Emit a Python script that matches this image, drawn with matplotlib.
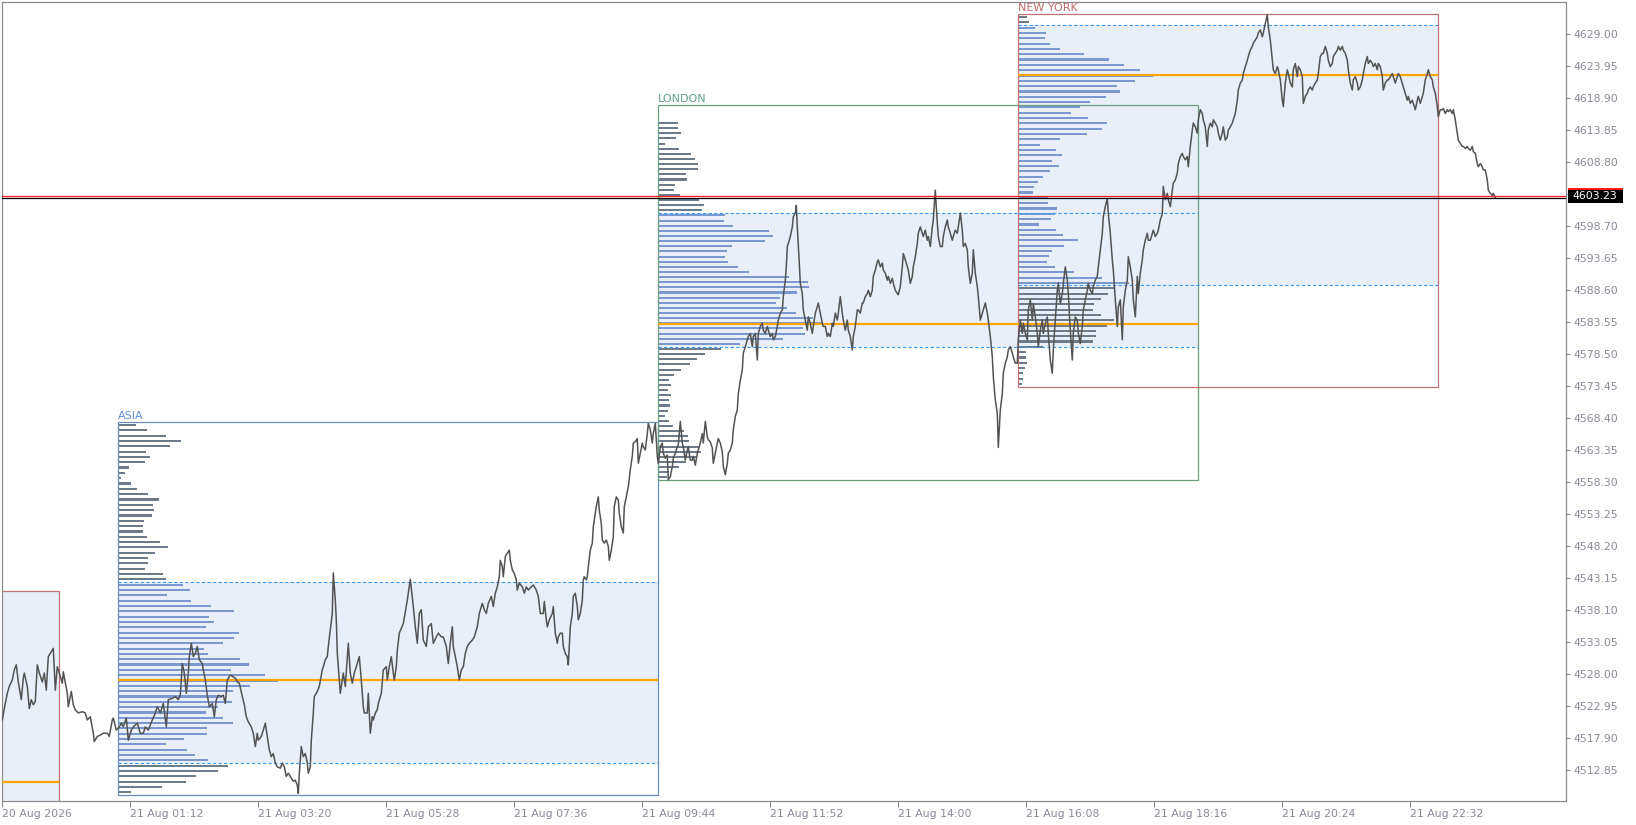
import numpy as np
import matplotlib.pyplot as plt
from matplotlib.patches import Rectangle
from matplotlib.transforms import blended_transform_factory

# M1 close line: (minutes after 21 Aug 2026 00:00, price)
m1_close = [
    (-56, 4520.8), (-54, 4522.6), (-51, 4525.0), (-49, 4526.1), (-46, 4527.1), (-44, 4528.7), (-42, 4529.5), (-40, 4526.8), (-37, 4524.0), (-35, 4527.4),
    (-34, 4528.2), (-31, 4526.1), (-29, 4522.6), (-27, 4524.0), (-25, 4523.2), (-23, 4523.7), (-21, 4529.5), (-19, 4528.2), (-16, 4526.8), (-14, 4528.2),
    (-12, 4525.5), (-10, 4530.8), (-7, 4531.6), (-5, 4532.1), (-3, 4525.5), (-1, 4529.2), (1, 4528.2), (4, 4526.6), (5, 4528.4), (9, 4525.0),
    (10, 4522.9), (13, 4525.3), (15, 4523.2), (17, 4522.4), (20, 4521.9), (24, 4522.1), (27, 4521.9), (29, 4520.8), (32, 4521.3), (35, 4518.7),
    (36, 4517.4), (39, 4518.2), (42, 4518.4), (45, 4518.7), (49, 4518.7), (51, 4518.2), (54, 4520.8), (55, 4521.1), (58, 4519.2), (61, 4519.7),
    (63, 4520.3), (65, 4519.7), (68, 4521.1), (70, 4517.6), (73, 4519.2), (75, 4519.7), (79, 4520.3), (82, 4518.7), (85, 4518.7), (87, 4519.7),
    (90, 4519.2), (94, 4520.8), (97, 4521.9), (99, 4522.9), (102, 4521.9), (105, 4523.4), (108, 4519.7), (110, 4524.0), (114, 4524.2), (117, 4524.5),
    (120, 4524.0), (122, 4524.7), (124, 4529.7), (126, 4528.2), (128, 4525.0), (130, 4528.2), (131, 4530.8), (133, 4532.9), (135, 4530.8), (137, 4531.3),
    (139, 4532.4), (141, 4530.3), (144, 4529.7), (145, 4528.7), (147, 4527.1), (149, 4524.7), (151, 4522.9), (154, 4523.4), (156, 4521.3), (158, 4524.0),
    (160, 4524.7), (163, 4524.5), (165, 4524.7), (167, 4523.4), (169, 4527.1), (172, 4527.9), (175, 4527.6), (177, 4527.4), (179, 4526.8), (181, 4526.6),
    (184, 4524.5), (186, 4523.2), (188, 4521.3), (190, 4520.5), (193, 4519.7), (195, 4518.7), (197, 4516.6), (199, 4518.7), (200, 4517.6), (203, 4518.2),
    (205, 4519.2), (207, 4520.3), (209, 4518.2), (211, 4516.1), (213, 4515.0), (215, 4515.5), (217, 4514.0), (219, 4513.4), (222, 4513.2), (224, 4514.0),
    (226, 4513.4), (228, 4511.9), (230, 4512.4), (232, 4511.9), (235, 4511.1), (237, 4511.3), (239, 4510.5), (240, 4509.2), (241, 4512.4), (243, 4516.6),
    (245, 4515.0), (247, 4515.5), (249, 4514.0), (250, 4512.4), (252, 4513.4), (253, 4517.6), (255, 4521.9), (256, 4524.5), (258, 4525.0), (259, 4525.3),
    (261, 4526.1), (264, 4528.7), (265, 4529.2), (267, 4530.3), (269, 4530.8), (270, 4532.4), (272, 4535.0), (274, 4537.6), (275, 4544.0), (277, 4539.7),
    (278, 4536.6), (279, 4531.3), (281, 4527.1), (282, 4525.0), (284, 4527.1), (285, 4528.2), (287, 4526.1), (289, 4530.8), (290, 4532.9), (292, 4528.2),
    (294, 4526.6), (296, 4528.2), (298, 4529.2), (300, 4530.3), (301, 4530.8), (303, 4527.1), (305, 4522.9), (306, 4521.9), (309, 4521.9), (310, 4525.0),
    (312, 4518.7), (314, 4521.3), (315, 4520.8), (317, 4521.9), (319, 4522.4), (320, 4523.4), (323, 4525.0), (325, 4528.7), (328, 4529.2), (329, 4527.1),
    (331, 4529.2), (333, 4530.8), (335, 4528.2), (336, 4527.1), (338, 4529.2), (339, 4531.8), (341, 4534.5),
    (345, 4536.0), (349, 4539.7), (352, 4543.0), (355, 4538.7), (357, 4535.5), (359, 4532.9), (361, 4537.6), (363, 4538.2), (365, 4533.4), (368, 4532.4),
    (370, 4535.5), (373, 4536.0), (375, 4532.9), (378, 4533.9), (380, 4534.5), (383, 4533.9), (385, 4533.9), (388, 4532.4), (390, 4529.7), (392, 4532.9),
    (394, 4535.5), (395, 4532.4), (397, 4530.8), (399, 4529.2), (401, 4527.1), (403, 4528.7), (405, 4529.2), (407, 4531.3), (409, 4532.4), (411, 4532.9),
    (414, 4533.4), (416, 4533.9), (419, 4535.5), (421, 4537.6), (424, 4539.2), (426, 4538.2), (428, 4537.6), (430, 4539.2), (433, 4540.3), (435, 4538.7),
    (437, 4540.8), (439, 4541.8), (441, 4543.4), (442, 4546.0), (444, 4545.0), (445, 4543.4), (447, 4546.6), (449, 4547.1), (451, 4547.6), (452, 4546.0),
    (454, 4544.5), (456, 4543.9), (458, 4542.9), (459, 4541.3), (461, 4542.4), (464, 4541.8), (466, 4540.8), (468, 4541.8), (470, 4541.3), (473, 4541.8),
    (475, 4542.1), (478, 4541.3), (480, 4540.3), (482, 4537.6), (485, 4537.6), (486, 4539.5), (488, 4536.6), (489, 4535.5), (491, 4536.6), (494, 4537.6),
    (495, 4538.7), (497, 4534.5), (499, 4532.9), (500, 4533.9), (502, 4534.5), (504, 4534.5), (505, 4532.4), (507, 4531.3), (509, 4530.8), (510, 4529.5),
    (512, 4535.5), (514, 4537.6), (515, 4540.3), (517, 4540.8), (519, 4538.7), (520, 4536.6), (522, 4537.6), (524, 4539.7), (525, 4542.9), (526, 4543.4),
    (528, 4542.9), (529, 4543.4), (530, 4545.0), (532, 4547.6), (534, 4548.7), (535, 4551.3), (537, 4553.4), (538, 4554.5), (540, 4556.0), (541, 4553.9),
    (543, 4551.8), (544, 4549.2), (546, 4548.7), (548, 4549.2), (550, 4548.2), (551, 4546.0), (553, 4547.6), (555, 4549.7), (556, 4554.5), (558, 4556.0),
    (560, 4555.5), (561, 4553.4), (563, 4551.3), (565, 4550.3), (566, 4554.5), (568, 4556.0), (570, 4557.6), (572, 4560.3), (574, 4562.4), (575, 4564.5),
    (577, 4564.7), (579, 4565.2), (580, 4561.3), (582, 4562.9), (584, 4564.5), (585, 4563.9), (587, 4563.4), (589, 4566.0), (590, 4567.6), (592, 4566.6),
    (594, 4564.5), (595, 4566.0), (597, 4567.6), (599, 4562.4), (600, 4561.3), (602, 4563.9), (604, 4564.5), (605, 4562.9), (607, 4562.1), (609, 4562.6),
    (610, 4558.7), (612, 4559.2), (614, 4560.8), (615, 4562.1), (617, 4562.9), (619, 4563.9), (620, 4564.2), (622, 4567.9), (624, 4564.5), (625, 4563.9),
    (627, 4561.8), (629, 4563.4), (630, 4563.9), (632, 4561.8), (634, 4561.8), (635, 4562.4), (637, 4561.0), (639, 4562.9), (640, 4563.4), (642, 4564.5),
    (644, 4566.0), (645, 4564.5), (647, 4567.9), (649, 4565.5), (650, 4565.0), (652, 4564.7), (654, 4563.7), (655, 4561.3), (657, 4562.9), (659, 4564.5),
    (660, 4565.2), (662, 4564.5), (664, 4563.1), (665, 4560.8), (667, 4559.5), (669, 4561.3), (670, 4562.9), (672, 4563.4), (674, 4564.5), (675, 4566.6),
    (677, 4568.7), (679, 4569.7), (680, 4572.3), (682, 4574.4),
    (684, 4576.0), (685, 4578.7), (687, 4579.7), (689, 4580.8), (690, 4581.3), (692, 4581.8), (694, 4579.7), (695, 4581.3), (697, 4581.8), (699, 4577.6),
    (700, 4581.8), (702, 4582.9), (704, 4583.4), (705, 4582.3), (707, 4581.8), (709, 4582.9), (710, 4582.3), (712, 4581.3), (714, 4581.8), (715, 4580.8),
    (717, 4581.3), (719, 4582.9), (720, 4583.9), (722, 4585.0), (724, 4585.5), (725, 4587.6), (727, 4590.2), (728, 4592.3), (729, 4595.5), (731, 4596.5),
    (732, 4597.1), (734, 4598.6), (735, 4600.2), (737, 4600.8), (738, 4602.0), (739, 4598.6), (741, 4592.9), (742, 4589.7), (744, 4588.1), (745, 4585.5),
    (747, 4583.9), (749, 4582.3), (750, 4584.4), (752, 4583.4), (754, 4581.8), (755, 4582.9), (757, 4585.0), (759, 4586.0), (760, 4586.6), (762, 4585.0),
    (764, 4583.4), (765, 4582.9), (767, 4582.9), (769, 4581.3), (770, 4581.8), (772, 4581.3), (774, 4583.4), (775, 4582.9), (777, 4585.0), (779, 4583.9),
    (780, 4585.0), (782, 4587.6), (784, 4585.0), (785, 4583.9), (787, 4582.3), (789, 4583.9), (790, 4582.3), (792, 4581.3), (794, 4579.2), (795, 4581.3),
    (797, 4582.9), (799, 4585.5), (800, 4585.5), (802, 4585.0), (804, 4586.6), (805, 4586.6), (807, 4587.6), (809, 4588.1), (810, 4588.6), (812, 4587.6),
    (814, 4588.6), (815, 4590.8), (817, 4591.8), (819, 4593.1), (820, 4593.4), (822, 4592.3), (824, 4592.9), (825, 4591.8), (827, 4591.3), (829, 4590.2),
    (830, 4590.8), (832, 4589.7), (834, 4590.5), (835, 4589.7), (837, 4588.6), (839, 4588.1), (840, 4587.9), (842, 4589.2), (844, 4592.3), (845, 4594.4),
    (847, 4593.4), (849, 4592.3), (850, 4591.8), (852, 4589.7), (854, 4590.8), (855, 4592.3), (857, 4593.9), (859, 4596.0), (860, 4597.6), (862, 4598.6),
    (864, 4597.6), (865, 4597.1), (867, 4598.1), (869, 4596.5), (870, 4597.1), (872, 4595.5), (874, 4598.6), (875, 4599.7), (877, 4604.4), (879, 4599.2),
    (880, 4597.1), (882, 4595.5), (884, 4595.5), (885, 4597.1), (887, 4598.6), (889, 4599.7), (890, 4598.6), (892, 4597.6), (894, 4596.5), (895, 4597.1),
    (897, 4598.1), (899, 4597.6), (900, 4598.6), (902, 4600.8), (904, 4598.1), (905, 4595.5), (907, 4596.0), (909, 4595.0), (910, 4592.3), (912, 4589.7),
    (914, 4591.3), (915, 4595.0), (917, 4591.3), (919, 4589.2), (920, 4587.6), (922, 4583.9), (924, 4585.0), (925, 4585.5), (927, 4586.6), (929, 4585.0),
    (930, 4583.9), (932, 4581.3), (934, 4578.1), (935, 4575.0), (937, 4571.3), (939, 4569.2), (940, 4563.8), (942, 4569.7), (944, 4572.3), (945, 4575.5),
    (947, 4577.1), (949, 4578.1), (950, 4579.2), (952, 4579.7), (954, 4578.7), (955, 4578.1), (957, 4577.1), (959, 4577.1), (960, 4580.8),
    (962, 4583.9), (964, 4581.8), (965, 4583.4), (967, 4581.8), (969, 4580.8), (970, 4585.5), (972, 4587.1), (974, 4583.9), (975, 4586.5), (977, 4584.4),
    (979, 4581.8), (980, 4579.7), (982, 4582.3), (984, 4583.9), (985, 4581.8), (987, 4583.4), (989, 4584.4), (990, 4581.8), (992, 4577.6), (994, 4575.5),
    (995, 4579.2), (997, 4583.9), (999, 4588.6), (1000, 4589.7), (1002, 4586.5), (1004, 4588.1), (1005, 4589.7), (1007, 4592.3), (1009, 4590.2), (1010, 4588.1),
    (1012, 4582.3), (1014, 4577.6), (1015, 4581.8), (1017, 4584.4), (1019, 4583.9), (1020, 4581.8), (1022, 4580.2), (1024, 4582.9), (1025, 4585.5), (1027, 4587.1),
    (1029, 4588.6), (1030, 4589.7), (1032, 4588.6), (1034, 4588.1), (1035, 4589.2), (1037, 4590.2), (1039, 4590.8), (1040, 4592.3), (1042, 4595.0), (1044, 4597.6),
    (1045, 4600.2), (1047, 4601.8), (1049, 4603.1), (1050, 4600.7), (1052, 4597.6), (1054, 4593.4), (1055, 4591.8), (1057, 4587.1), (1059, 4582.9), (1060, 4586.0),
    (1062, 4587.1), (1064, 4580.8), (1065, 4586.0), (1067, 4588.6), (1069, 4590.2), (1070, 4593.9), (1072, 4592.3), (1074, 4590.2), (1075, 4587.1), (1077, 4584.4),
    (1079, 4590.8), (1080, 4588.1), (1082, 4591.3), (1084, 4593.4), (1085, 4595.0), (1087, 4596.5), (1089, 4597.6), (1090, 4596.5), (1092, 4596.5), (1094, 4597.6),
    (1095, 4598.1), (1097, 4597.1), (1099, 4597.6), (1100, 4598.1), (1102, 4599.7), (1104, 4600.7), (1105, 4605.0), (1107, 4602.9), (1109, 4603.9), (1110, 4602.9),
    (1112, 4601.8), (1114, 4604.4), (1115, 4605.5), (1117, 4606.0), (1119, 4607.1), (1120, 4608.6), (1122, 4609.7), (1124, 4610.2), (1125, 4609.7), (1127, 4609.2),
    (1129, 4609.7), (1130, 4608.1), (1132, 4611.3), (1134, 4613.9), (1135, 4615.0), (1137, 4614.4), (1139, 4613.4), (1140, 4615.5), (1142, 4617.1), (1144, 4616.5),
    (1145, 4615.5), (1147, 4614.4), (1149, 4611.3), (1150, 4613.9), (1152, 4615.0), (1154, 4614.4), (1155, 4615.5), (1157, 4615.0), (1159, 4614.4), (1160, 4613.4),
    (1162, 4612.3), (1164, 4613.4), (1165, 4614.4), (1167, 4612.3), (1169, 4612.8), (1170, 4613.9), (1172, 4614.4), (1174, 4615.0), (1175, 4615.5), (1177, 4616.5),
    (1179, 4618.6), (1180, 4620.2), (1182, 4621.3), (1184, 4621.8), (1185, 4622.8), (1187, 4623.9), (1189, 4624.9), (1190, 4625.5), (1192, 4626.5), (1194, 4627.1),
    (1195, 4627.6), (1197, 4628.1), (1199, 4628.6), (1200, 4629.2), (1202, 4629.7), (1204, 4628.6), (1205, 4629.2), (1207, 4630.7), (1209, 4632.1), (1210, 4630.2),
    (1212, 4628.1), (1214, 4624.9), (1215, 4623.4), (1217, 4622.8), (1219, 4623.9), (1220, 4623.4), (1222, 4621.8), (1224, 4618.6), (1225, 4617.6), (1227, 4621.3),
    (1229, 4623.4), (1230, 4622.8), (1232, 4621.3), (1234, 4620.7), (1235, 4623.4), (1237, 4624.4), (1239, 4622.3), (1240, 4623.9), (1242, 4623.4), (1244, 4622.3),
    (1245, 4618.1), (1247, 4619.2), (1249, 4619.7), (1250, 4620.2), (1252, 4620.7), (1254, 4620.2), (1255, 4620.7), (1257, 4621.3), (1259, 4621.8), (1260, 4622.8),
    (1262, 4625.5), (1264, 4626.0), (1265, 4626.0), (1267, 4627.1), (1269, 4626.0), (1270, 4624.9), (1272, 4623.9), (1274, 4624.4), (1275, 4625.5), (1277, 4626.0),
    (1279, 4626.5), (1280, 4627.1), (1282, 4626.5), (1284, 4627.1), (1285, 4626.5), (1287, 4626.0), (1289, 4624.9), (1290, 4623.4), (1292, 4621.3), (1294, 4620.2),
    (1295, 4621.8), (1297, 4622.3), (1299, 4621.3), (1300, 4620.2), (1302, 4620.7), (1304, 4621.8), (1305, 4622.8), (1307, 4624.4), (1309, 4625.5), (1310, 4624.4),
    (1312, 4624.9), (1314, 4624.4), (1315, 4623.9), (1317, 4624.4), (1319, 4623.4), (1320, 4624.4), (1322, 4623.9), (1324, 4622.3), (1325, 4620.2), (1327, 4621.3),
    (1329, 4621.8), (1330, 4621.8), (1332, 4622.3), (1334, 4622.8), (1335, 4622.3), (1337, 4621.3), (1339, 4622.3), (1340, 4622.8), (1342, 4622.3),
    (1345, 4620.7), (1349, 4618.6), (1350, 4619.2), (1352, 4618.1), (1354, 4618.6), (1355, 4618.1), (1357, 4617.1), (1359, 4618.6), (1360, 4619.2), (1362, 4618.1),
    (1365, 4619.7), (1367, 4621.8), (1369, 4622.8), (1370, 4623.4), (1372, 4622.3), (1374, 4621.8), (1375, 4620.7), (1377, 4619.7), (1379, 4617.6), (1380, 4616.0),
    (1382, 4617.1), (1384, 4617.1), (1385, 4617.3), (1387, 4616.5), (1389, 4617.1), (1390, 4616.8), (1392, 4617.1), (1394, 4616.5), (1395, 4617.1), (1397, 4615.5),
    (1399, 4613.4), (1400, 4612.3), (1402, 4611.8), (1404, 4611.3), (1405, 4611.3), (1407, 4611.0), (1409, 4611.3), (1410, 4611.0), (1412, 4610.7), (1414, 4611.3),
    (1415, 4610.5), (1417, 4610.2), (1419, 4608.6), (1420, 4608.1), (1422, 4608.6), (1424, 4608.1), (1425, 4607.6), (1427, 4607.6), (1429, 4606.0), (1430, 4604.4),
    (1432, 4603.9), (1434, 4603.6), (1435, 4603.9), (1437, 4603.23),
]

# sessions (minutes after 21 Aug 00:00)
session_names = ["ASIA", "LONDON", "NEW YORK"]
session_open = [60, 600, 960]
session_close = [600, 1140, 1380]
session_high = [4567.77, 4617.84, 4632.15]
session_low = [4508.96, 4558.67, 4573.39]
session_vah = [4542.52, 4600.75, 4630.40]
session_val = [4513.96, 4579.61, 4589.40]
session_poc = [4527.10, 4583.28, 4622.58]

# volume profile rows, top row first
asia_profile = [18, 29, 48, 63, 52, 28, 32, 27, 11, 7, 3, 13, 19, 30, 41, 35, 36, 34, 26, 25,
                25, 29, 42, 50, 37, 30, 30, 27, 45, 48,
                65, 72, 49, 73, 93, 116, 91, 96, 88, 121, 116, 105, 86, 90, 122, 131, 113, 147, 160, 132,
                115, 104, 114, 100, 88, 105, 115, 89, 89, 66, 48, 69, 77, 90,
                110, 100, 78, 68, 44, 13]
london_profile = [0, 0, 0,
                  20, 20, 23, 18, 7, 21, 33, 37, 40, 40, 28, 29, 17, 16, 22, 41, 46, 44,
                  67, 66, 75, 111, 115, 107, 74, 69, 67, 70, 80, 91, 131, 150, 151, 139, 122, 118, 129, 138,
                  155, 165, 145, 147, 125, 82,
                  63, 47, 39, 32, 23, 16, 11, 13, 10, 13, 11, 12, 10, 7, 11, 15, 26, 30, 31, 41,
                  43, 38, 28, 21, 11, 9]
newyork_profile = [9, 11, 17, 28, 27, 32, 42, 66, 91, 106, 122, 135, 117, 99, 102, 88, 72, 62, 53, 70,
                   89, 84, 69, 42, 22, 38, 44, 34, 41, 32, 25, 20, 16, 15, 30, 30, 39, 37, 33, 21,
                   38, 45, 60, 46, 34, 31, 29, 37, 56, 84, 111, 97, 90, 83, 76, 75, 83, 96, 89, 78,
                   78, 75, 25, 8, 8, 9, 7, 5, 5, 4]
profiles = [asia_profile, london_profile, newyork_profile]

# previous (20 Aug) New York session, cut by the left edge
prev_close = 1
prev_high = 4541.15
prev_poc = 4511.06

bid = 4603.23
ask = 4603.55

time_ticks = [-56, 72, 200, 328, 456, 584, 712, 840, 968, 1096, 1224, 1352]
time_labels = ["20 Aug 2026", "21 Aug 01:12", "21 Aug 03:20", "21 Aug 05:28", "21 Aug 07:36",
               "21 Aug 09:44", "21 Aug 11:52", "21 Aug 14:00", "21 Aug 16:08", "21 Aug 18:16",
               "21 Aug 20:24", "21 Aug 22:32"]
price_ticks = [round(4512.85 + 5.05 * k, 2) for k in range(24)]

box_colors = ["#6a8cc0", "#6d9f7f", "#c27272"]
label_colors = ["#5f93d8", "#5e9e8a", "#c06a6a"]
va_fill = "#e8eff9"
va_line = "#3b9cf0"
poc_color = "#ffa500"
bar_in = "#7a99d0"
bar_out = "#6d7b8a"
axis_col = "#8c8c8c"
text_col = "#8a8a98"

fig = plt.figure(figsize=(16.36, 8.25), dpi=100)
ax = fig.add_axes([2.3 / 1636, 24 / 825, 1564 / 1636, 798.7 / 825])
ax.set_facecolor("white")
ax.set_xlim(-56, 1508)
ax.set_ylim(4508.01, 4634.05)

# previous session leftover
ax.add_patch(Rectangle((-90, 4490), prev_close + 90, prev_high - 4490,
                       facecolor=va_fill, edgecolor=box_colors[2], lw=0.9, zorder=1))
ax.hlines(prev_poc, -90, prev_close, color=poc_color, lw=1.6, zorder=4)

for i, name in enumerate(session_names):
    t0, t1 = session_open[i], session_close[i]
    ax.add_patch(Rectangle((t0, session_val[i]), t1 - t0, session_vah[i] - session_val[i],
                           facecolor=va_fill, lw=0, zorder=1))

for i, name in enumerate(session_names):
    t0, t1 = session_open[i], session_close[i]
    hi, lo = session_high[i], session_low[i]
    vols = np.array(profiles[i], dtype=float)
    n = len(vols)
    step = (hi - lo) / n
    centers = hi - step * (np.arange(n) + 0.5)
    inside = (centers <= session_vah[i]) & (centers >= session_val[i])
    cols = np.where(inside, bar_in, bar_out)
    ax.barh(centers, vols, height=step * 0.4, left=t0, color=cols, lw=0, zorder=2)
    ax.add_patch(Rectangle((t0, lo), t1 - t0, hi - lo, fill=False,
                           edgecolor=box_colors[i], lw=0.9, zorder=3))
    ax.hlines([session_vah[i], session_val[i]], t0, t1, colors=va_line,
              linestyles=(0, (3, 2)), lw=0.8, zorder=4)
    ax.hlines(session_poc[i], t0, t1, color=poc_color, lw=1.6, zorder=4)
    ax.annotate(name, (t0, hi), xytext=(0, 1), textcoords="offset points",
                ha="left", va="bottom", fontsize=8, color=label_colors[i])

mins = [m for m, _ in m1_close]
closes = [p for _, p in m1_close]
ax.plot(mins, closes, color="#535353", lw=1.1, zorder=6)

ax.axhline(ask, color="#ff1a1a", lw=0.9, zorder=7)
ax.axhline(bid, color="black", lw=0.9, zorder=7)

# axes look
for s in ax.spines.values():
    s.set_color(axis_col)
    s.set_linewidth(0.9)
ax.yaxis.tick_right()
ax.set_yticks(price_ticks)
ax.set_yticklabels(["" if abs(v - bid) < 2 else f"{v:.2f}" for v in price_ticks])
ax.set_xticks(time_ticks)
ax.set_xticklabels(time_labels)
for lbl in ax.get_xticklabels():
    lbl.set_horizontalalignment("left")
ax.tick_params(axis="y", direction="out", length=3, width=0.8, color=axis_col,
               labelsize=7.8, labelcolor=text_col, pad=2)
ax.tick_params(axis="x", direction="out", length=4, width=0.8, color=axis_col,
               labelsize=7.8, labelcolor=text_col, pad=2)

# current price tag
tr = blended_transform_factory(ax.transAxes, ax.transData)
ax.add_patch(Rectangle((1.0011, bid - 0.91), 0.0352, 2.37, transform=tr,
                       facecolor="black", lw=0, clip_on=False, zorder=10))
ax.add_patch(Rectangle((1.0011, bid + 1.2), 0.0352, 0.26, transform=tr,
                       facecolor="#ff1a1a", lw=0, clip_on=False, zorder=11))
ax.text(1.0037, bid + 0.27, f"{bid:.2f}", transform=tr, color="white", fontsize=7.8,
        va="center", ha="left", zorder=12, clip_on=False)

fig.savefig("out.png", dpi=100)
